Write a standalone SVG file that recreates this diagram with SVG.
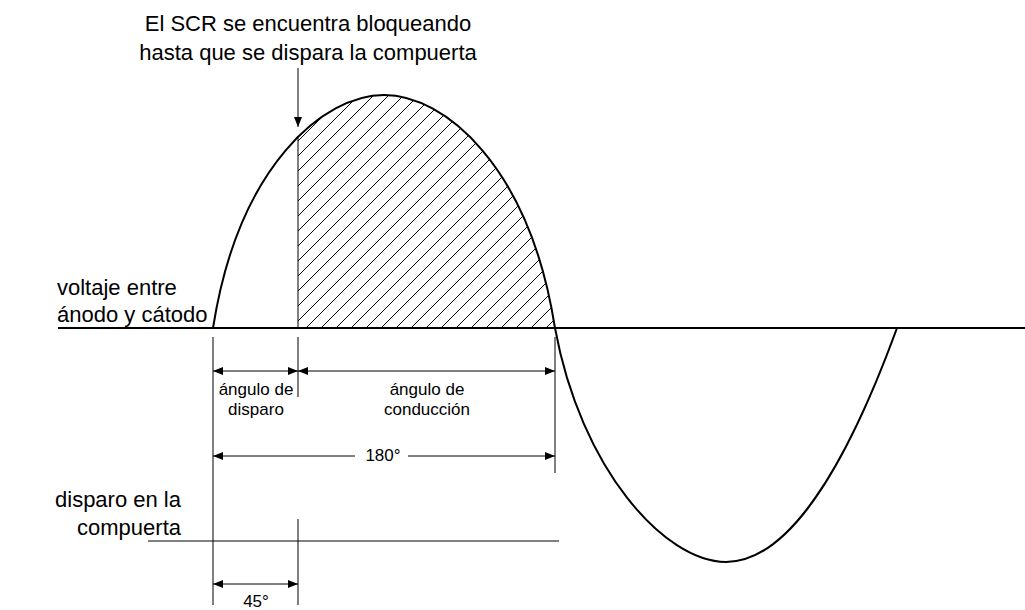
<svg xmlns="http://www.w3.org/2000/svg" width="1025" height="610" viewBox="0 0 1025 610">
<style>
text{font-family:"Liberation Sans",Arial,sans-serif;fill:#000}
.big{font-size:22px}
.small{font-size:17px;text-anchor:middle}
.thin{stroke:#000;stroke-width:1;fill:none}
.thick{stroke:#000;stroke-width:2;fill:none}
.hatch{stroke:#000;stroke-width:1;fill:none}
</style>
<defs>
<marker id="ah" markerUnits="userSpaceOnUse" markerWidth="10" markerHeight="8" refX="10" refY="4" orient="auto-start-reverse" viewBox="0 0 10 8">
<path d="M0,0 L10,4 L0,8 Z" fill="#000"/>
</marker>
<clipPath id="halfpos"><path d="M213,328 C238.65,164.9 324.15,95 384,95 C443.85,95 529.35,164.9 555,328 Z"/></clipPath>
<clipPath id="afterfire"><rect x="298" y="80" width="270" height="248"/></clipPath>
</defs>
<g id="hatching" clip-path="url(#halfpos)">
<g clip-path="url(#afterfire)">
<path class="hatch" d="M64,330L304,90M79,330L319,90M94,330L334,90M109,330L349,90M124,330L364,90M139,330L379,90M154,330L394,90M169,330L409,90M184,330L424,90M199,330L439,90M214,330L454,90M229,330L469,90M244,330L484,90M259,330L499,90M274,330L514,90M289,330L529,90M304,330L544,90M319,330L559,90M334,330L574,90M349,330L589,90M364,330L604,90M379,330L619,90M394,330L634,90M409,330L649,90M424,330L664,90M439,330L679,90M454,330L694,90M469,330L709,90M484,330L724,90M499,330L739,90M514,330L754,90M529,330L769,90M544,330L784,90M559,330L799,90"/>
</g>
</g>
<g id="axis"><line class="thick" x1="58" y1="328" x2="1025" y2="328"/></g>
<g id="waveform">
<path class="thick" d="M213,328 C238.65,164.9 324.15,95 384,95 C443.85,95 529.35,164.9 555,328 C580.65,468.4 664.4,562 726,562 C787.6,562 845.7,468.4 897,328"/>
<line class="thin" x1="298" y1="136" x2="298" y2="328"/>
</g>
<g id="gate-line"><line class="thin" x1="148" y1="541" x2="559" y2="541"/></g>
<g id="connectors">
<line class="thin" x1="298" y1="68" x2="298" y2="127" marker-end="url(#ah)"/>
<line class="thin" x1="213" y1="337" x2="213" y2="605"/>
<line class="thin" x1="298" y1="337" x2="298" y2="397"/>
<line class="thin" x1="555" y1="337" x2="555" y2="473"/>
<line class="thin" x1="298" y1="519" x2="298" y2="605"/>
<line class="thin" x1="213" y1="371" x2="298" y2="371" marker-start="url(#ah)" marker-end="url(#ah)"/>
<line class="thin" x1="298" y1="371" x2="555" y2="371" marker-start="url(#ah)" marker-end="url(#ah)"/>
<line class="thin" x1="213" y1="456" x2="355" y2="456" marker-start="url(#ah)"/>
<line class="thin" x1="408" y1="456" x2="555" y2="456" marker-end="url(#ah)"/>
<line class="thin" x1="213" y1="584" x2="298" y2="584" marker-start="url(#ah)" marker-end="url(#ah)"/>
</g>
<g id="title">
<text class="big" x="308" y="31" text-anchor="middle">El SCR se encuentra bloqueando</text>
<text class="big" x="308" y="60" text-anchor="middle">hasta que se dispara la compuerta</text>
</g>
<g id="label-voltage">
<text class="big" x="57" y="295">voltaje entre</text>
<text class="big" x="57" y="322">ánodo y cátodo</text>
</g>
<g id="label-gate">
<text class="big" x="181" y="507" text-anchor="end">disparo en la</text>
<text class="big" x="181" y="535" text-anchor="end">compuerta</text>
</g>
<g id="label-firing-angle">
<text class="small" x="256" y="395">ángulo de</text>
<text class="small" x="256" y="415">disparo</text>
</g>
<g id="label-conduction-angle">
<text class="small" x="427" y="395">ángulo de</text>
<text class="small" x="427" y="415">conducción</text>
</g>
<g id="label-180"><text class="small" x="383" y="461">180°</text></g>
<g id="label-45"><text class="small" x="256" y="607">45°</text></g>
</svg>
